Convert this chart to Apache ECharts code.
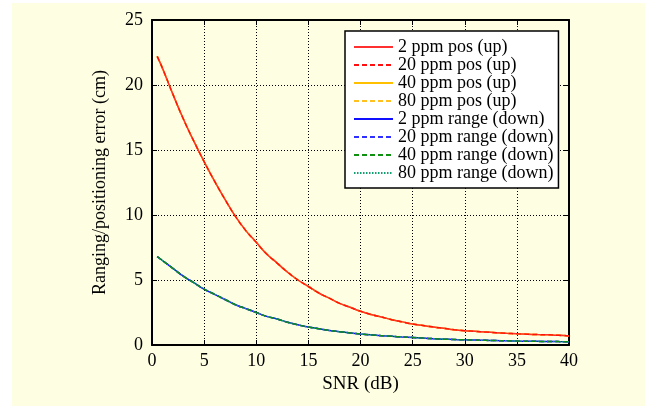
<!DOCTYPE html>
<html>
<head>
<meta charset="utf-8">
<script src="https://cdn.jsdelivr.net/npm/echarts@6/dist/echarts.min.js"></script>
<style>
  html, body { margin: 0; padding: 0; background: #fff; }
  #chart { position: absolute; left: 12px; top: 3px; width: 633px; height: 403px; background: #fefee3; }
</style>
</head>
<body>
<div id="chart"></div>
<script>
// SNR (dB)
var snr = [0.5, 1, 2, 3, 4, 5, 6, 7, 8, 9, 10, 11, 12, 13, 14, 15, 16, 17, 18, 19, 20,
  21, 22, 23, 24, 25, 26, 27, 28, 29, 30, 31, 32, 33, 34, 35, 36, 37, 38, 39, 40];
// positioning error, uplink (cm)
var posUp = [22.2, 21.3, 19.3, 17.4, 15.7, 14.1, 12.6, 11.2, 9.9, 8.8, 7.9, 7.0, 6.3, 5.6, 5.0, 4.5,
  4.0, 3.6, 3.2, 2.9, 2.6, 2.35, 2.15, 1.95, 1.78, 1.62, 1.5, 1.38, 1.28, 1.18, 1.1,
  1.05, 1.0, 0.95, 0.9, 0.86, 0.83, 0.8, 0.78, 0.75, 0.7];
// ranging error, downlink (cm)
var rangeDown = [6.8, 6.5, 5.9, 5.3, 4.8, 4.3, 3.9, 3.5, 3.1, 2.8, 2.5, 2.2, 2.0, 1.75, 1.55, 1.38,
  1.25, 1.12, 1.02, 0.93, 0.85, 0.78, 0.72, 0.67, 0.62, 0.58, 0.53, 0.49, 0.45, 0.42, 0.4,
  0.38, 0.36, 0.34, 0.32, 0.3, 0.29, 0.28, 0.27, 0.26, 0.25];
var names = ['2 ppm pos (up)', '20 ppm pos (up)', '40 ppm pos (up)', '80 ppm pos (up)',
  '2 ppm range (down)', '20 ppm range (down)', '40 ppm range (down)', '80 ppm range (down)'];
var colors = ['#ff3030', '#ff1010', '#ffc000', '#ffc020', '#1010ff', '#3030ff', '#109010', '#10a070'];
var dashes = ['solid', [5, 3], 'solid', [5, 3], 'solid', [5, 3], [5, 3], [1.5, 1.5]];
// draw order: dashed red over yellow, dashed green over blue
var layer = [2, 4, 1, 3, 1, 3, 4, 2];

var font = 'Liberation Serif';
var myChart = echarts.init(document.getElementById('chart'));

function pairs(ys) {
  return snr.map(function (x, i) { return [x, ys[i]]; });
}

var series = names.map(function (n, i) {
  return {
    name: n,
    type: 'line',
    symbol: 'none',
    smooth: true,
    z: layer[i] + 1,
    data: pairs(i < 4 ? posUp : rangeDown),
    lineStyle: { color: colors[i], width: 1.5, type: dashes[i] },
    itemStyle: { color: colors[i] }
  };
});

var tickStyle = { show: true, inside: true, length: 5, lineStyle: { color: '#000', width: 1 } };

option = {
  animation: false,
  textStyle: { fontFamily: font },
  grid: { left: 140, top: 17, right: 76, bottom: 61 },
  legend: {
    orient: 'vertical',
    left: 333,
    top: 28,
    padding: [7, 5, 6, 8],
    backgroundColor: '#fff',
    borderColor: '#000',
    borderWidth: 1.5,
    itemWidth: 39,
    itemHeight: 12,
    itemGap: 0,
    itemStyle: { opacity: 0 },
    textStyle: { fontFamily: font, fontSize: 18, lineHeight: 17.7, color: '#000' },
    data: names
  },
  xAxis: [{
    type: 'value',
    min: 0, max: 40, interval: 5,
    name: 'SNR (dB)',
    nameLocation: 'middle',
    nameGap: 30,
    nameTextStyle: { fontFamily: font, fontSize: 19, color: '#000' },
    axisLine: { show: true, onZero: false, lineStyle: { color: '#000', width: 2 } },
    axisTick: tickStyle,
    axisLabel: { fontFamily: font, fontSize: 18, color: '#000', margin: 7 },
    splitLine: { show: true, lineStyle: { color: '#000', type: [1, 2], width: 1 } }
  }, {
    type: 'value',
    position: 'top',
    min: 0, max: 40, interval: 5,
    axisLine: { show: true, onZero: false, lineStyle: { color: '#000', width: 2 } },
    axisTick: tickStyle,
    axisLabel: { show: false },
    splitLine: { show: false }
  }],
  yAxis: [{
    type: 'value',
    min: 0, max: 25, interval: 5,
    name: 'Ranging/positioning error (cm)',
    nameLocation: 'middle',
    nameGap: 43,
    nameTextStyle: { fontFamily: font, fontSize: 18, color: '#000' },
    axisLine: { show: true, onZero: false, lineStyle: { color: '#000', width: 2 } },
    axisTick: tickStyle,
    axisLabel: { fontFamily: font, fontSize: 18, color: '#000', margin: 9 },
    splitLine: { show: true, lineStyle: { color: '#000', type: [1, 2], width: 1 } }
  }, {
    type: 'value',
    position: 'right',
    min: 0, max: 25, interval: 5,
    axisLine: { show: true, onZero: false, lineStyle: { color: '#000', width: 2 } },
    axisTick: tickStyle,
    axisLabel: { show: false },
    splitLine: { show: false }
  }],
  series: series
};

myChart.setOption(option);
window.addEventListener('resize', function () {
  myChart.resize();
});
</script>
</body>
</html>
